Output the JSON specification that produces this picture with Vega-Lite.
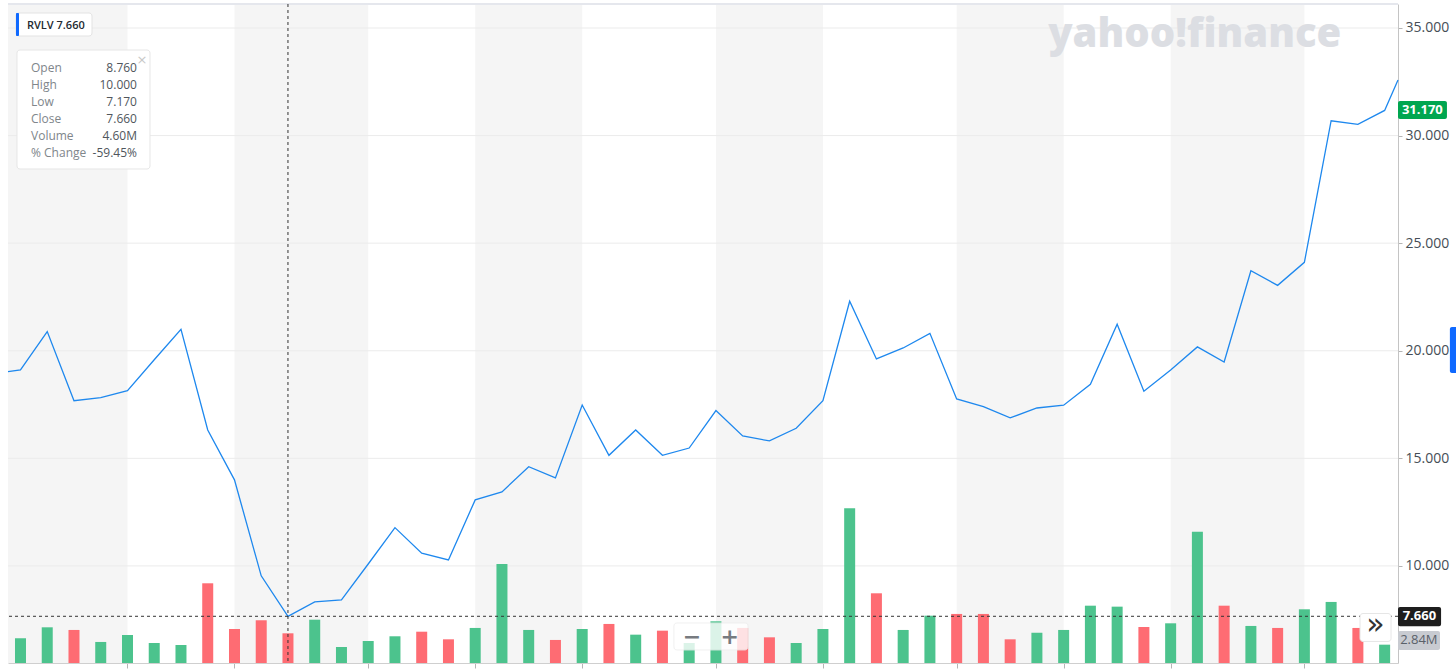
{
  "$schema": "https://vega.github.io/schema/vega-lite/v6.json",
  "width": 1390,
  "height": 659,
  "autosize": {"type": "none"},
  "padding": {"left": 8, "top": 4, "right": 58, "bottom": 7},
  "background": "white",
  "config": {"view": {"stroke": null}, "font": "Open Sans"},
  "datasets": {
    "weeks": [
      {"i": 0, "close": 19.11, "volume": 3.83, "dir": "up"},
      {"i": 1, "close": 20.89, "volume": 5.53, "dir": "up"},
      {"i": 2, "close": 17.68, "volume": 5.12, "dir": "down"},
      {"i": 3, "close": 17.82, "volume": 3.26, "dir": "up"},
      {"i": 4, "close": 18.15, "volume": 4.34, "dir": "up"},
      {"i": 5, "close": 19.58, "volume": 3.10, "dir": "up"},
      {"i": 6, "close": 21.00, "volume": 2.79, "dir": "up"},
      {"i": 7, "close": 16.32, "volume": 12.35, "dir": "down"},
      {"i": 8, "close": 14.00, "volume": 5.27, "dir": "down"},
      {"i": 9, "close": 9.54, "volume": 6.62, "dir": "down"},
      {"i": 10, "close": 7.66, "volume": 4.60, "dir": "down"},
      {"i": 11, "close": 8.33, "volume": 6.71, "dir": "up"},
      {"i": 12, "close": 8.42, "volume": 2.48, "dir": "up"},
      {"i": 13, "close": 10.09, "volume": 3.41, "dir": "up"},
      {"i": 14, "close": 11.78, "volume": 4.14, "dir": "up"},
      {"i": 15, "close": 10.59, "volume": 4.85, "dir": "down"},
      {"i": 16, "close": 10.28, "volume": 3.67, "dir": "down"},
      {"i": 17, "close": 13.07, "volume": 5.43, "dir": "up"},
      {"i": 18, "close": 13.44, "volume": 15.35, "dir": "up"},
      {"i": 19, "close": 14.61, "volume": 5.12, "dir": "up"},
      {"i": 20, "close": 14.09, "volume": 3.57, "dir": "down"},
      {"i": 21, "close": 17.48, "volume": 5.27, "dir": "up"},
      {"i": 22, "close": 15.14, "volume": 6.05, "dir": "down"},
      {"i": 23, "close": 16.32, "volume": 4.39, "dir": "up"},
      {"i": 24, "close": 15.14, "volume": 5.01, "dir": "down"},
      {"i": 25, "close": 15.48, "volume": 3.10, "dir": "up"},
      {"i": 26, "close": 17.22, "volume": 6.46, "dir": "up"},
      {"i": 27, "close": 16.04, "volume": 5.43, "dir": "down"},
      {"i": 28, "close": 15.81, "volume": 3.98, "dir": "down"},
      {"i": 29, "close": 16.40, "volume": 3.10, "dir": "up"},
      {"i": 30, "close": 17.68, "volume": 5.27, "dir": "up"},
      {"i": 31, "close": 22.30, "volume": 23.98, "dir": "up"},
      {"i": 32, "close": 19.62, "volume": 10.80, "dir": "down"},
      {"i": 33, "close": 20.13, "volume": 5.12, "dir": "up"},
      {"i": 34, "close": 20.81, "volume": 7.33, "dir": "up"},
      {"i": 35, "close": 17.76, "volume": 7.60, "dir": "down"},
      {"i": 36, "close": 17.40, "volume": 7.60, "dir": "down"},
      {"i": 37, "close": 16.88, "volume": 3.67, "dir": "down"},
      {"i": 38, "close": 17.34, "volume": 4.70, "dir": "up"},
      {"i": 39, "close": 17.47, "volume": 5.12, "dir": "up"},
      {"i": 40, "close": 18.44, "volume": 8.88, "dir": "up"},
      {"i": 41, "close": 21.23, "volume": 8.73, "dir": "up"},
      {"i": 42, "close": 18.12, "volume": 5.58, "dir": "down"},
      {"i": 43, "close": 19.11, "volume": 6.15, "dir": "up"},
      {"i": 44, "close": 20.18, "volume": 20.35, "dir": "up"},
      {"i": 45, "close": 19.48, "volume": 8.88, "dir": "down"},
      {"i": 46, "close": 23.72, "volume": 5.74, "dir": "up"},
      {"i": 47, "close": 23.04, "volume": 5.43, "dir": "down"},
      {"i": 48, "close": 24.11, "volume": 8.32, "dir": "up"},
      {"i": 49, "close": 30.69, "volume": 9.46, "dir": "up"},
      {"i": 50, "close": 30.52, "volume": 5.43, "dir": "down"},
      {"i": 51, "close": 31.17, "volume": 2.84, "dir": "up"}
    ],
    "line": [
      {"i": -0.467, "close": 19.03},
      {"i": 0, "close": 19.11}, {"i": 1, "close": 20.89}, {"i": 2, "close": 17.68}, {"i": 3, "close": 17.82},
      {"i": 4, "close": 18.15}, {"i": 5, "close": 19.58}, {"i": 6, "close": 21.00}, {"i": 7, "close": 16.32},
      {"i": 8, "close": 14.00}, {"i": 9, "close": 9.54}, {"i": 10, "close": 7.66}, {"i": 11, "close": 8.33},
      {"i": 12, "close": 8.42}, {"i": 13, "close": 10.09}, {"i": 14, "close": 11.78}, {"i": 15, "close": 10.59},
      {"i": 16, "close": 10.28}, {"i": 17, "close": 13.07}, {"i": 18, "close": 13.44}, {"i": 19, "close": 14.61},
      {"i": 20, "close": 14.09}, {"i": 21, "close": 17.48}, {"i": 22, "close": 15.14}, {"i": 23, "close": 16.32},
      {"i": 24, "close": 15.14}, {"i": 25, "close": 15.48}, {"i": 26, "close": 17.22}, {"i": 27, "close": 16.04},
      {"i": 28, "close": 15.81}, {"i": 29, "close": 16.40}, {"i": 30, "close": 17.68}, {"i": 31, "close": 22.30},
      {"i": 32, "close": 19.62}, {"i": 33, "close": 20.13}, {"i": 34, "close": 20.81}, {"i": 35, "close": 17.76},
      {"i": 36, "close": 17.40}, {"i": 37, "close": 16.88}, {"i": 38, "close": 17.34}, {"i": 39, "close": 17.47},
      {"i": 40, "close": 18.44}, {"i": 41, "close": 21.23}, {"i": 42, "close": 18.12}, {"i": 43, "close": 19.11},
      {"i": 44, "close": 20.18}, {"i": 45, "close": 19.48}, {"i": 46, "close": 23.72}, {"i": 47, "close": 23.04},
      {"i": 48, "close": 24.11}, {"i": 49, "close": 30.69}, {"i": 50, "close": 30.52}, {"i": 51, "close": 31.17},
      {"i": 51.5, "close": 32.58}
    ],
    "bands": [
      {"start": -0.467, "end": 4},
      {"start": 8, "end": 13},
      {"start": 17, "end": 21},
      {"start": 26, "end": 30},
      {"start": 35, "end": 39},
      {"start": 43, "end": 48}
    ],
    "grid": [{"p": 10}, {"p": 15}, {"p": 20}, {"p": 25}, {"p": 30}, {"p": 35}]
  },
  "resolve": {"scale": {"y": "independent"}, "axis": {"x": "independent", "y": "independent"}},
  "layer": [
    {
      "resolve": {"axis": {"x": "independent", "y": "independent"}},
      "layer": [
        {
          "data": {"name": "bands"},
          "mark": {"type": "rect", "color": "#f5f5f5"},
          "encoding": {
            "x": {"field": "start", "type": "quantitative", "scale": {"domain": [-0.467, 51.5], "nice": false, "zero": false, "padding": 0}, "axis": null},
            "x2": {"field": "end"}
          }
        },
        {
          "data": {"name": "grid"},
          "mark": {"type": "rule", "color": "#ebebeb", "strokeWidth": 1},
          "encoding": {
            "y": {"field": "p", "type": "quantitative", "scale": {"domain": [5.489, 36.115], "nice": false, "zero": false}, "axis": null}
          }
        },
        {
          "data": {"values": [{}]},
          "mark": {"type": "rule", "color": "#e5e7ed", "strokeWidth": 2},
          "encoding": {
            "y": {"datum": 36.115, "type": "quantitative", "scale": {"domain": [5.489, 36.115], "nice": false, "zero": false}, "axis": null}
          }
        }
      ]
    },
    {
      "data": {"name": "weeks"},
      "mark": {"type": "bar", "size": 11},
      "encoding": {
        "x": {
          "field": "i", "type": "quantitative", "title": null,
          "scale": {"domain": [-0.467, 51.5], "nice": false, "zero": false, "padding": 0},
          "axis": {"values": [4, 8, 13, 17, 21, 26, 30, 35, 39, 43, 48], "labels": false, "grid": false, "tickSize": 5, "tickColor": "#b5b5b5", "domainColor": "#cfcfcf", "title": null}
        },
        "y": {"field": "volume", "type": "quantitative", "scale": {"domain": [0, 102.1], "nice": false, "zero": true}, "axis": null},
        "color": {"field": "dir", "type": "nominal", "scale": {"domain": ["up", "down"], "range": ["#4cc38d", "#fe6c73"]}, "legend": null}
      }
    },
    {
      "data": {"values": [{}]},
      "resolve": {"axis": {"x": "independent", "y": "independent"}},
      "layer": [
        {
          "data": {"name": "line"},
          "mark": {"type": "line", "color": "#1e88ee", "strokeWidth": 1.3},
          "encoding": {
            "x": {"field": "i", "type": "quantitative", "scale": {"domain": [-0.467, 51.5], "nice": false, "zero": false, "padding": 0}, "axis": null},
            "y": {
              "field": "close", "type": "quantitative", "title": null,
              "scale": {"domain": [5.489, 36.115], "nice": false, "zero": false},
              "axis": {"orient": "right", "values": [10, 15, 20, 25, 30, 35], "format": ".3f", "grid": false, "domainColor": "#c4c4c4", "tickColor": "#b5b5b5", "tickSize": 4, "labelFont": "Open Sans", "labelFontSize": 14, "labelColor": "#464e56", "labelPadding": 3, "title": null}
            }
          }
        },
        {
          "mark": {"type": "rule", "color": "#333333", "strokeDash": [3, 3], "strokeWidth": 1},
          "encoding": {"x": {"datum": 10, "type": "quantitative", "scale": {"domain": [-0.467, 51.5], "nice": false, "zero": false, "padding": 0}, "axis": null}}
        },
        {
          "mark": {"type": "rule", "color": "#333333", "strokeDash": [3, 3], "strokeWidth": 1},
          "encoding": {"y": {"datum": 7.66, "type": "quantitative", "scale": {"domain": [5.489, 36.115], "nice": false, "zero": false}, "axis": null}}
        },
        {
          "mark": {"type": "text", "text": "yahoo!finance", "font": "Open Sans", "fontSize": 40, "fontWeight": 900, "color": "#dcdee3", "align": "center", "baseline": "alphabetic"},
          "encoding": {
            "x": {"datum": 43.9, "type": "quantitative", "scale": {"domain": [-0.467, 51.5], "nice": false, "zero": false, "padding": 0}, "axis": null},
            "y": {"datum": 34.117, "type": "quantitative", "scale": {"domain": [5.489, 36.115], "nice": false, "zero": false}, "axis": null}
          }
        },
        {
          "mark": {"type": "rect", "color": "white", "stroke": "#e3e3e3", "strokeWidth": 1, "cornerRadius": 3},
          "encoding": {
            "x": {"datum": -0.168, "type": "quantitative", "scale": {"domain": [-0.467, 51.5], "nice": false, "zero": false, "padding": 0}, "axis": null},
            "x2": {"datum": 2.673},
            "y": {"datum": 35.697, "type": "quantitative", "scale": {"domain": [5.489, 36.115], "nice": false, "zero": false}, "axis": null},
            "y2": {"datum": 34.628}
          }
        },
        {
          "mark": {"type": "rect", "color": "#0f69ff", "cornerRadius": 1},
          "encoding": {
            "x": {"datum": -0.168, "type": "quantitative", "scale": {"domain": [-0.467, 51.5], "nice": false, "zero": false, "padding": 0}, "axis": null},
            "x2": {"datum": -0.056},
            "y": {"datum": 35.697, "type": "quantitative", "scale": {"domain": [5.489, 36.115], "nice": false, "zero": false}, "axis": null},
            "y2": {"datum": 34.628}
          }
        },
        {
          "mark": {"type": "text", "text": "RVLV  7.660", "font": "Open Sans", "fontSize": 11, "fontWeight": 600, "color": "#232a31", "align": "left", "baseline": "alphabetic"},
          "encoding": {
            "x": {"datum": 0.243, "type": "quantitative", "scale": {"domain": [-0.467, 51.5], "nice": false, "zero": false, "padding": 0}, "axis": null},
            "y": {"datum": 34.953, "type": "quantitative", "scale": {"domain": [5.489, 36.115], "nice": false, "zero": false}, "axis": null}
          }
        },
        {
          "mark": {"type": "rect", "color": "white", "stroke": "#e6e6e6", "strokeWidth": 1, "cornerRadius": 3},
          "encoding": {
            "x": {"datum": -0.131, "type": "quantitative", "scale": {"domain": [-0.467, 51.5], "nice": false, "zero": false, "padding": 0}, "axis": null},
            "x2": {"datum": 4.841},
            "y": {"datum": 33.977, "type": "quantitative", "scale": {"domain": [5.489, 36.115], "nice": false, "zero": false}, "axis": null},
            "y2": {"datum": 28.447}
          }
        },
        {
          "mark": {"type": "text", "text": ["Open", "High", "Low", "Close", "Volume", "% Change"], "lineHeight": 17, "font": "Open Sans", "fontSize": 12, "color": "#80868b", "align": "left", "baseline": "alphabetic"},
          "encoding": {
            "x": {"datum": 0.393, "type": "quantitative", "scale": {"domain": [-0.467, 51.5], "nice": false, "zero": false, "padding": 0}, "axis": null},
            "y": {"datum": 32.941, "type": "quantitative", "scale": {"domain": [5.489, 36.115], "nice": false, "zero": false}, "axis": null}
          }
        },
        {
          "mark": {"type": "text", "text": ["8.760", "10.000", "7.170", "7.660", "4.60M", "-59.45%"], "lineHeight": 17, "font": "Open Sans", "fontSize": 12, "color": "#50565c", "align": "right", "baseline": "alphabetic"},
          "encoding": {
            "x": {"datum": 4.355, "type": "quantitative", "scale": {"domain": [-0.467, 51.5], "nice": false, "zero": false, "padding": 0}, "axis": null},
            "y": {"datum": 32.941, "type": "quantitative", "scale": {"domain": [5.489, 36.115], "nice": false, "zero": false}, "axis": null}
          }
        },
        {
          "mark": {"type": "text", "text": "×", "font": "DejaVu Sans", "fontSize": 13, "color": "#c8c8c8", "align": "center", "baseline": "middle"},
          "encoding": {
            "x": {"datum": 4.542, "type": "quantitative", "scale": {"domain": [-0.467, 51.5], "nice": false, "zero": false, "padding": 0}, "axis": null},
            "y": {"datum": 33.513, "type": "quantitative", "scale": {"domain": [5.489, 36.115], "nice": false, "zero": false}, "axis": null}
          }
        },
        {
          "mark": {"type": "rect", "color": "white", "opacity": 0.8, "stroke": "#eeeeee", "strokeWidth": 1, "cornerRadius": 3},
          "encoding": {
            "x": {"datum": 24.43, "type": "quantitative", "scale": {"domain": [-0.467, 51.5], "nice": false, "zero": false, "padding": 0}, "axis": null},
            "x2": {"datum": 27.2},
            "y": {"datum": 7.349, "type": "quantitative", "scale": {"domain": [5.489, 36.115], "nice": false, "zero": false}, "axis": null},
            "y2": {"datum": 6.094}
          }
        },
        {
          "mark": {"type": "text", "text": "−", "font": "DejaVu Sans", "fontSize": 22, "fontWeight": "bold", "color": "#777b80", "align": "center", "baseline": "middle"},
          "encoding": {
            "x": {"datum": 25.1, "type": "quantitative", "scale": {"domain": [-0.467, 51.5], "nice": false, "zero": false, "padding": 0}, "axis": null},
            "y": {"datum": 6.72, "type": "quantitative", "scale": {"domain": [5.489, 36.115], "nice": false, "zero": false}, "axis": null}
          }
        },
        {
          "mark": {"type": "text", "text": "+", "font": "DejaVu Sans", "fontSize": 22, "fontWeight": "bold", "color": "#777b80", "align": "center", "baseline": "middle"},
          "encoding": {
            "x": {"datum": 26.52, "type": "quantitative", "scale": {"domain": [-0.467, 51.5], "nice": false, "zero": false, "padding": 0}, "axis": null},
            "y": {"datum": 6.72, "type": "quantitative", "scale": {"domain": [5.489, 36.115], "nice": false, "zero": false}, "axis": null}
          }
        },
        {
          "mark": {"type": "rect", "color": "white", "stroke": "#e6e6e6", "strokeWidth": 1, "cornerRadius": 3},
          "encoding": {
            "x": {"datum": 50.08, "type": "quantitative", "scale": {"domain": [-0.467, 51.5], "nice": false, "zero": false, "padding": 0}, "axis": null},
            "x2": {"datum": 51.24},
            "y": {"datum": 7.79, "type": "quantitative", "scale": {"domain": [5.489, 36.115], "nice": false, "zero": false}, "axis": null},
            "y2": {"datum": 6.49}
          }
        },
        {
          "mark": {"type": "text", "text": "»", "font": "DejaVu Sans", "fontSize": 30, "color": "#333333", "align": "center", "baseline": "middle"},
          "encoding": {
            "x": {"datum": 50.66, "type": "quantitative", "scale": {"domain": [-0.467, 51.5], "nice": false, "zero": false, "padding": 0}, "axis": null},
            "y": {"datum": 7.25, "type": "quantitative", "scale": {"domain": [5.489, 36.115], "nice": false, "zero": false}, "axis": null}
          }
        },
        {
          "mark": {"type": "rect", "color": "#00a650", "cornerRadius": 2},
          "encoding": {
            "x": {"datum": 51.5, "type": "quantitative", "scale": {"domain": [-0.467, 51.5], "nice": false, "zero": false, "padding": 0}, "axis": null},
            "x2": {"datum": 53.33},
            "y": {"datum": 31.61, "type": "quantitative", "scale": {"domain": [5.489, 36.115], "nice": false, "zero": false}, "axis": null},
            "y2": {"datum": 30.77}
          }
        },
        {
          "mark": {"type": "text", "text": "31.170", "font": "Open Sans", "fontSize": 13, "fontWeight": "bold", "color": "white", "align": "center", "baseline": "middle"},
          "encoding": {
            "x": {"datum": 52.41, "type": "quantitative", "scale": {"domain": [-0.467, 51.5], "nice": false, "zero": false, "padding": 0}, "axis": null},
            "y": {"datum": 31.19, "type": "quantitative", "scale": {"domain": [5.489, 36.115], "nice": false, "zero": false}, "axis": null}
          }
        },
        {
          "mark": {"type": "rect", "color": "#1e1e1e", "cornerRadius": 2},
          "encoding": {
            "x": {"datum": 51.5, "type": "quantitative", "scale": {"domain": [-0.467, 51.5], "nice": false, "zero": false, "padding": 0}, "axis": null},
            "x2": {"datum": 53.11},
            "y": {"datum": 8.09, "type": "quantitative", "scale": {"domain": [5.489, 36.115], "nice": false, "zero": false}, "axis": null},
            "y2": {"datum": 7.2}
          }
        },
        {
          "mark": {"type": "text", "text": "7.660", "font": "Open Sans", "fontSize": 13, "fontWeight": "bold", "color": "white", "align": "center", "baseline": "middle"},
          "encoding": {
            "x": {"datum": 52.3, "type": "quantitative", "scale": {"domain": [-0.467, 51.5], "nice": false, "zero": false, "padding": 0}, "axis": null},
            "y": {"datum": 7.653, "type": "quantitative", "scale": {"domain": [5.489, 36.115], "nice": false, "zero": false}, "axis": null}
          }
        },
        {
          "mark": {"type": "rect", "color": "#c8cbd1", "cornerRadius": 2},
          "encoding": {
            "x": {"datum": 51.5, "type": "quantitative", "scale": {"domain": [-0.467, 51.5], "nice": false, "zero": false, "padding": 0}, "axis": null},
            "x2": {"datum": 53.07},
            "y": {"datum": 6.98, "type": "quantitative", "scale": {"domain": [5.489, 36.115], "nice": false, "zero": false}, "axis": null},
            "y2": {"datum": 6.09}
          }
        },
        {
          "mark": {"type": "text", "text": "2.84M", "font": "Open Sans", "fontSize": 13, "color": "#5a6169", "align": "center", "baseline": "middle"},
          "encoding": {
            "x": {"datum": 52.28, "type": "quantitative", "scale": {"domain": [-0.467, 51.5], "nice": false, "zero": false, "padding": 0}, "axis": null},
            "y": {"datum": 6.535, "type": "quantitative", "scale": {"domain": [5.489, 36.115], "nice": false, "zero": false}, "axis": null}
          }
        },
        {
          "mark": {"type": "rect", "color": "#0f69ff", "cornerRadius": 2},
          "encoding": {
            "x": {"datum": 53.44, "type": "quantitative", "scale": {"domain": [-0.467, 51.5], "nice": false, "zero": false, "padding": 0}, "axis": null},
            "x2": {"datum": 53.8},
            "y": {"datum": 21.105, "type": "quantitative", "scale": {"domain": [5.489, 36.115], "nice": false, "zero": false}, "axis": null},
            "y2": {"datum": 18.967}
          }
        }
      ]
    }
  ]
}
